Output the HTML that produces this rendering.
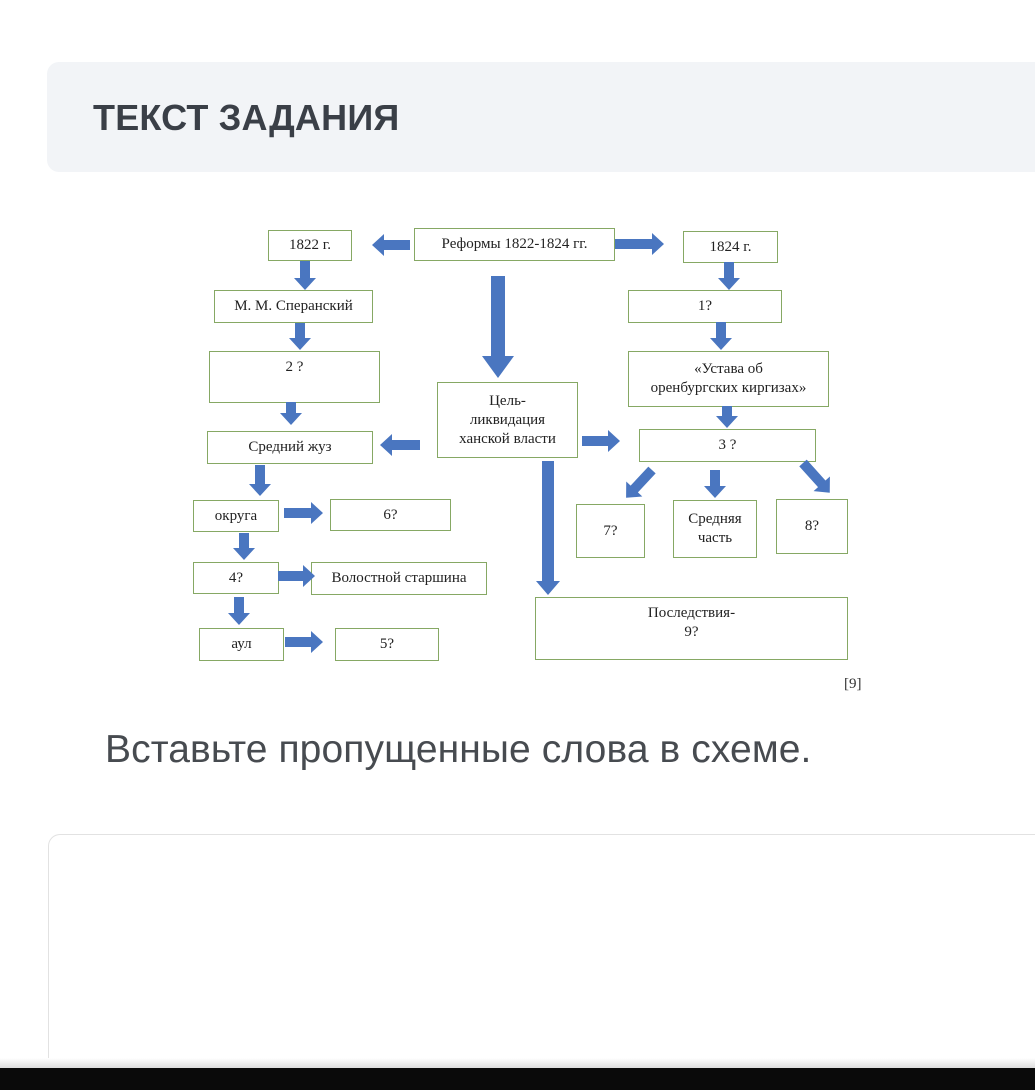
<!DOCTYPE html>
<html><head><meta charset="utf-8">
<style>
html,body{margin:0;padding:0;background:#fff;width:1035px;height:1090px;overflow:hidden;}
body{position:relative;font-family:"Liberation Sans",sans-serif;}
.hdr{position:absolute;left:47px;top:62px;width:1000px;height:110px;background:#f2f4f7;border-radius:12px;}
.title{position:absolute;left:93px;top:97px;font-size:36px;font-weight:bold;color:#3a3f47;letter-spacing:0.2px;}
.q{position:absolute;left:105px;top:728px;font-size:39px;color:#474b50;letter-spacing:0.1px;}
.ans{position:absolute;left:48px;top:834px;width:1000px;height:224px;border:1.5px solid #e2e2e2;border-bottom:none;border-radius:12px 12px 0 0;background:#fff;}
.bar{position:absolute;left:0;top:1068px;width:1035px;height:22px;background:#0a0a0a;}
.shade{position:absolute;left:0;top:1058px;width:1035px;height:10px;background:linear-gradient(#fff,#ddd);}
.b{position:absolute;border:1.5px solid #86a864;box-sizing:border-box;background:#fff;font-family:"Liberation Serif",serif;font-size:15px;color:#222;text-align:center;display:flex;align-items:center;justify-content:center;line-height:19px;}
.t{align-items:flex-start;padding-top:6px;}
svg{position:absolute;left:0;top:0;}
</style></head><body>
<div class="hdr"></div>
<div class="title">ТЕКСТ ЗАДАНИЯ</div>

<div class="b" style="left:268px;top:230px;width:84px;height:31px;">1822 г.</div>
<div class="b" style="left:414px;top:228px;width:201px;height:33px;">Реформы 1822-1824 гг.</div>
<div class="b" style="left:683px;top:231px;width:95px;height:32px;">1824 г.</div>
<div class="b" style="left:214px;top:290px;width:159px;height:33px;">М. М. Сперанский</div>
<div class="b" style="left:628px;top:290px;width:154px;height:33px;">1?</div>
<div class="b t" style="left:209px;top:351px;width:171px;height:52px;">2 ?</div>
<div class="b" style="left:628px;top:351px;width:201px;height:56px;">«Устава об<br>оренбургских киргизах»</div>
<div class="b" style="left:437px;top:382px;width:141px;height:76px;">Цель-<br>ликвидация<br>ханской власти</div>
<div class="b" style="left:207px;top:431px;width:166px;height:33px;">Средний жуз</div>
<div class="b" style="left:639px;top:429px;width:177px;height:33px;">3 ?</div>
<div class="b" style="left:193px;top:500px;width:86px;height:32px;">округа</div>
<div class="b" style="left:330px;top:499px;width:121px;height:32px;">6?</div>
<div class="b" style="left:576px;top:504px;width:69px;height:54px;">7?</div>
<div class="b" style="left:673px;top:500px;width:84px;height:58px;">Средняя<br>часть</div>
<div class="b" style="left:776px;top:499px;width:72px;height:55px;">8?</div>
<div class="b" style="left:193px;top:562px;width:86px;height:32px;">4?</div>
<div class="b" style="left:311px;top:562px;width:176px;height:33px;">Волостной старшина</div>
<div class="b" style="left:199px;top:628px;width:85px;height:33px;">аул</div>
<div class="b" style="left:335px;top:628px;width:104px;height:33px;">5?</div>
<div class="b t" style="left:535px;top:597px;width:313px;height:63px;">Последствия-<br>9?</div>
<div style="position:absolute;left:844px;top:676px;font-family:'Liberation Serif',serif;font-size:15px;color:#333;">[9]</div>

<svg width="1035" height="1090" fill="#4a76c0">
<polygon transform="translate(410,245) rotate(180)" points="0,-5 26,-5 26,-11 38,0 26,11 26,5 0,5"/>
<polygon transform="translate(615,244)" points="0,-5 37,-5 37,-11 49,0 37,11 37,5 0,5"/>
<polygon transform="translate(305,261) rotate(90)" points="0,-5 17,-5 17,-11 29,0 17,11 17,5 0,5"/>
<polygon transform="translate(300,323) rotate(90)" points="0,-5 15,-5 15,-11 27,0 15,11 15,5 0,5"/>
<polygon transform="translate(291,402) rotate(90)" points="0,-5 11,-5 11,-11 23,0 11,11 11,5 0,5"/>
<polygon transform="translate(420,445) rotate(180)" points="0,-5 28,-5 28,-11 40,0 28,11 28,5 0,5"/>
<polygon transform="translate(498,276) rotate(90)" points="0,-7 80,-7 80,-16 102,0 80,16 80,7 0,7"/>
<polygon transform="translate(582,441)" points="0,-5 26,-5 26,-11 38,0 26,11 26,5 0,5"/>
<polygon transform="translate(729,262) rotate(90)" points="0,-5 16,-5 16,-11 28,0 16,11 16,5 0,5"/>
<polygon transform="translate(721,322) rotate(90)" points="0,-5 16,-5 16,-11 28,0 16,11 16,5 0,5"/>
<polygon transform="translate(727,406) rotate(90)" points="0,-5 10,-5 10,-11 22,0 10,11 10,5 0,5"/>
<polygon transform="translate(548,461) rotate(90)" points="0,-6 120,-6 120,-12 134,0 120,12 120,6 0,6"/>
<polygon transform="translate(652,470) rotate(133)" points="0,-5 26,-5 26,-11 38,0 26,11 26,5 0,5"/>
<polygon transform="translate(715,470) rotate(90)" points="0,-5 16,-5 16,-11 28,0 16,11 16,5 0,5"/>
<polygon transform="translate(803,463) rotate(48)" points="0,-5 28,-5 28,-11 40,0 28,11 28,5 0,5"/>
<polygon transform="translate(260,465) rotate(90)" points="0,-5 19,-5 19,-11 31,0 19,11 19,5 0,5"/>
<polygon transform="translate(284,513)" points="0,-5 27,-5 27,-11 39,0 27,11 27,5 0,5"/>
<polygon transform="translate(244,533) rotate(90)" points="0,-5 15,-5 15,-11 27,0 15,11 15,5 0,5"/>
<polygon transform="translate(278,576)" points="0,-5 25,-5 25,-11 37,0 25,11 25,5 0,5"/>
<polygon transform="translate(239,597) rotate(90)" points="0,-5 16,-5 16,-11 28,0 16,11 16,5 0,5"/>
<polygon transform="translate(285,642)" points="0,-5 26,-5 26,-11 38,0 26,11 26,5 0,5"/>
</svg>

<div class="q">Вставьте пропущенные слова в схеме.</div>
<div class="ans"></div>
<div class="shade"></div>
<div class="bar"></div>
</body></html>
